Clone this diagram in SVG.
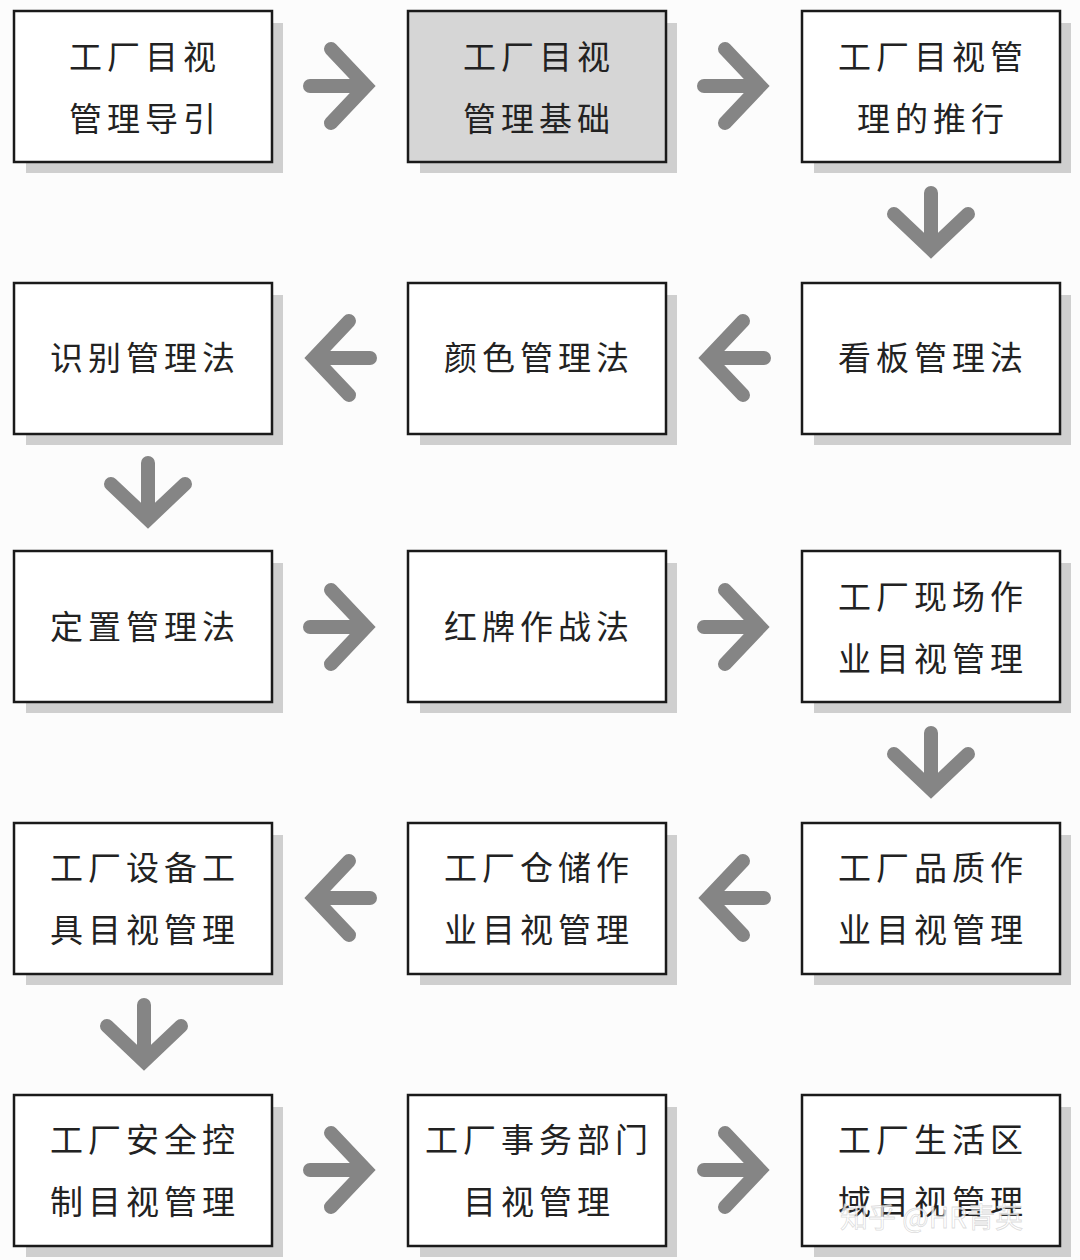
<svg xmlns="http://www.w3.org/2000/svg" width="1080" height="1260" viewBox="0 0 1080 1260">
<defs>
<style>
.sh{fill:#cfcfcf}
.bx{fill:#ffffff;stroke:#1a1a1a;stroke-width:2.5}
.bg{fill:#d6d6d6;stroke:#1a1a1a;stroke-width:2.5}
.t{font-family:"Noto Sans CJK SC","Noto Sans",sans-serif;font-size:33px;fill:#222;text-anchor:middle;letter-spacing:5px}
.ar{fill:none;stroke:#858585;stroke-width:14;stroke-linecap:round;stroke-linejoin:miter;stroke-miterlimit:10}
.wm{font-family:"Noto Sans CJK SC","Noto Sans",sans-serif;font-size:28px;fill:#ffffff;fill-opacity:0.75;stroke:#999;stroke-opacity:0.35;stroke-width:0.8}
</style>
<path id="ar-r" class="ar" d="M-30,0 H20 M-9,-37 L26,0 L-9,37"/>
</defs>
<rect width="1080" height="1260" fill="#fcfcfc"/>

<g id="connectors">
<use href="#ar-r" transform="translate(340,86)"/>
<use href="#ar-r" transform="translate(734,86)"/>
<use href="#ar-r" transform="translate(931,223) rotate(90)"/>
<use href="#ar-r" transform="translate(734,358) rotate(180)"/>
<use href="#ar-r" transform="translate(340,358) rotate(180)"/>
<use href="#ar-r" transform="translate(148,493) rotate(90)"/>
<use href="#ar-r" transform="translate(340,627)"/>
<use href="#ar-r" transform="translate(734,627)"/>
<use href="#ar-r" transform="translate(931,763) rotate(90)"/>
<use href="#ar-r" transform="translate(734,898) rotate(180)"/>
<use href="#ar-r" transform="translate(340,898) rotate(180)"/>
<use href="#ar-r" transform="translate(144,1035) rotate(90)"/>
<use href="#ar-r" transform="translate(340,1170)"/>
<use href="#ar-r" transform="translate(734,1170)"/>
</g>

<g id="n1"><rect class="sh" x="26" y="23" width="257" height="150"/><rect class="bx" x="14" y="11" width="258" height="151"/><text class="t" x="145" y="69">工厂目视</text><text class="t" x="145" y="131">管理导引</text></g>
<g id="n2"><rect class="sh" x="420" y="23" width="257" height="150"/><rect class="bg" x="408" y="11" width="258" height="151"/><text class="t" x="539" y="69">工厂目视</text><text class="t" x="539" y="131">管理基础</text></g>
<g id="n3"><rect class="sh" x="814" y="23" width="257" height="150"/><rect class="bx" x="802" y="11" width="258" height="151"/><text class="t" x="933" y="69">工厂目视管</text><text class="t" x="933" y="131">理的推行</text></g>

<g id="n4"><rect class="sh" x="814" y="295" width="257" height="150"/><rect class="bx" x="802" y="283" width="258" height="151"/><text class="t" x="933" y="370">看板管理法</text></g>
<g id="n5"><rect class="sh" x="420" y="295" width="257" height="150"/><rect class="bx" x="408" y="283" width="258" height="151"/><text class="t" x="539" y="370">颜色管理法</text></g>
<g id="n6"><rect class="sh" x="26" y="295" width="257" height="150"/><rect class="bx" x="14" y="283" width="258" height="151"/><text class="t" x="145" y="370">识别管理法</text></g>

<g id="n7"><rect class="sh" x="26" y="563" width="257" height="150"/><rect class="bx" x="14" y="551" width="258" height="151"/><text class="t" x="145" y="639">定置管理法</text></g>
<g id="n8"><rect class="sh" x="420" y="563" width="257" height="150"/><rect class="bx" x="408" y="551" width="258" height="151"/><text class="t" x="539" y="639">红牌作战法</text></g>
<g id="n9"><rect class="sh" x="814" y="563" width="257" height="150"/><rect class="bx" x="802" y="551" width="258" height="151"/><text class="t" x="933" y="609">工厂现场作</text><text class="t" x="933" y="671">业目视管理</text></g>

<g id="n10"><rect class="sh" x="814" y="835" width="257" height="150"/><rect class="bx" x="802" y="823" width="258" height="151"/><text class="t" x="933" y="880">工厂品质作</text><text class="t" x="933" y="942">业目视管理</text></g>
<g id="n11"><rect class="sh" x="420" y="835" width="257" height="150"/><rect class="bx" x="408" y="823" width="258" height="151"/><text class="t" x="539" y="880">工厂仓储作</text><text class="t" x="539" y="942">业目视管理</text></g>
<g id="n12"><rect class="sh" x="26" y="835" width="257" height="150"/><rect class="bx" x="14" y="823" width="258" height="151"/><text class="t" x="145" y="880">工厂设备工</text><text class="t" x="145" y="942">具目视管理</text></g>

<g id="n13"><rect class="sh" x="26" y="1107" width="257" height="150"/><rect class="bx" x="14" y="1095" width="258" height="151"/><text class="t" x="145" y="1152">工厂安全控</text><text class="t" x="145" y="1214">制目视管理</text></g>
<g id="n14"><rect class="sh" x="420" y="1107" width="257" height="150"/><rect class="bx" x="408" y="1095" width="258" height="151"/><text class="t" x="539" y="1152">工厂事务部门</text><text class="t" x="539" y="1214">目视管理</text></g>
<g id="n15"><rect class="sh" x="814" y="1107" width="257" height="150"/><rect class="bx" x="802" y="1095" width="258" height="151"/><text class="t" x="933" y="1152">工厂生活区</text><text class="t" x="933" y="1214">域目视管理</text></g>

<text class="wm" x="840" y="1228">知乎 @HR青英</text>
</svg>
